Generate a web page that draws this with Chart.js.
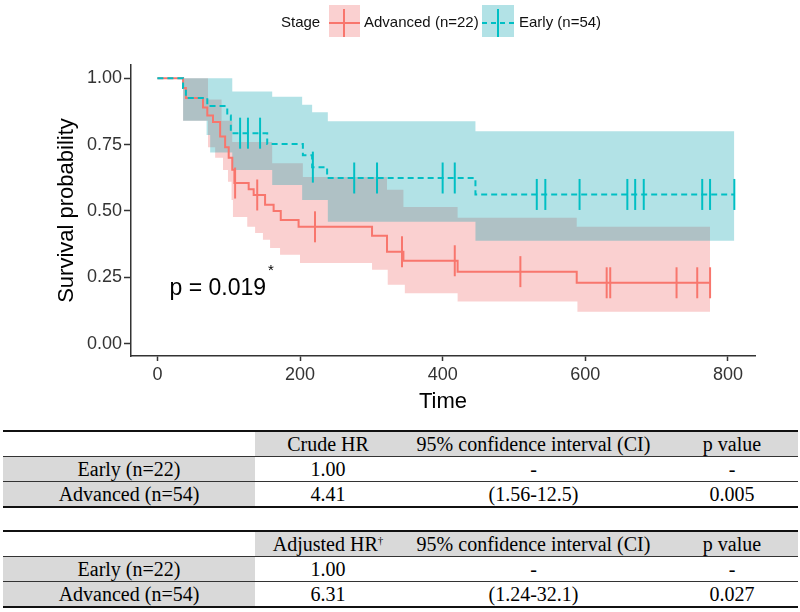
<!DOCTYPE html>
<html>
<head>
<meta charset="utf-8">
<script src="https://cdn.jsdelivr.net/npm/chart.js@4.4.1/dist/chart.umd.min.js"></script>
<style>
html, body { margin: 0; padding: 0; background: #fff; }
#wrap { position: relative; width: 800px; height: 612px; overflow: hidden; }
#km { position: absolute; left: 0; top: 0; }
table.hr { position: absolute; left: 3px; width: 795px; border-collapse: collapse; table-layout: fixed;
  font-family: "Liberation Serif", "Times New Roman", serif; font-size: 20px; color: #000;
  border-top: 2px solid #111; border-bottom: 2px solid #111; }
table.hr td { height: 24px; line-height: 24px; padding: 0; text-align: center; border-bottom: 1px solid #333; white-space: nowrap; }
table.hr tr.head td { background: #d9d9d9; }
table.hr tr.head td.blank { background: #fff; }
table.hr td.lab { background: #d9d9d9; }
table.hr sup { font-size: 11px; vertical-align: top; position: relative; top: -4px; }
</style>
</head>
<body>
<div id="wrap">
  <canvas id="km" width="800" height="425"></canvas>
</div>
<script>
// axis ticks
const xTicks = [0, 200, 400, 600, 800];
const yTicks = [0, 0.25, 0.5, 0.75, 1];

// Advanced (red) KM curve
const advTime = [0, 36, 40, 64, 70, 78, 88, 95, 100, 105, 108, 128, 135, 151, 163, 173, 198, 301, 322, 345, 421, 588, 775];
const advSurv = [1, 0.963, 0.926, 0.89, 0.86, 0.835, 0.78, 0.74, 0.70, 0.655, 0.605, 0.582, 0.56, 0.523, 0.50, 0.466, 0.44, 0.406, 0.346, 0.312, 0.271, 0.229, 0.229];
const advCensorTime = [109, 140, 221, 343, 417, 509, 630, 635, 728, 757, 775];
const advCensorSurv = [0.605, 0.56, 0.44, 0.346, 0.312, 0.271, 0.229, 0.229, 0.229, 0.229, 0.229];
const advUpperTime = [36, 71, 90, 105, 161, 204, 322, 345, 421, 588, 775];
const advUpper = [1, 0.92, 0.84, 0.76, 0.68, 0.628, 0.58, 0.515, 0.474, 0.44, 0.44];
const advLowerTime = [36, 71, 81, 92, 99, 104, 106, 126, 137, 148, 158, 172, 200, 301, 323, 347, 421, 589, 775];
const advLower = [0.84, 0.74, 0.70, 0.654, 0.61, 0.541, 0.477, 0.44, 0.417, 0.391, 0.36, 0.335, 0.304, 0.278, 0.222, 0.19, 0.158, 0.12, 0.12];

// Early (teal) KM curve
const earlyTime = [0, 36, 40, 70, 98, 103, 154, 204, 217, 238, 446, 809];
const earlySurv = [1, 0.963, 0.926, 0.895, 0.86, 0.793, 0.752, 0.71, 0.665, 0.624, 0.562, 0.562];
const earlyCensorTime = [116, 127, 144, 218, 276, 308, 400, 417, 532, 544, 592, 659, 670, 682, 764, 775, 809];
const earlyCensorSurv = [0.793, 0.793, 0.793, 0.665, 0.624, 0.624, 0.624, 0.624, 0.562, 0.562, 0.562, 0.562, 0.562, 0.562, 0.562, 0.562, 0.562];
const earlyUpperTime = [36, 105, 161, 203, 217, 239, 446, 809];
const earlyUpper = [1, 0.95, 0.93, 0.90, 0.872, 0.838, 0.80, 0.80];
const earlyLowerTime = [36, 69, 74, 105, 161, 203, 239, 446, 809];
const earlyLower = [0.84, 0.786, 0.72, 0.654, 0.598, 0.541, 0.459, 0.387, 0.387];

const legendTitle = "Stage";
const groupNames = ["Advanced (n=22)", "Early (n=54)"];
const pvalText = "p = 0.019";
const pvalAt = {x: 17, y: 0.207};

// tables
const tableHead1 = ["", "Crude HR", "95% confidence interval (CI)", "p value"];
const tableHead2 = ["", "Adjusted HR<sup>†</sup>", "95% confidence interval (CI)", "p value"];
const rowLabels = ["Early (n=22)", "Advanced (n=54)"];
const crudeHR = ["1.00", "4.41"];
const crudeCI = ["-", "(1.56-12.5)"];
const crudeP = ["-", "0.005"];
const adjHR = ["1.00", "6.31"];
const adjCI = ["-", "(1.24-32.1)"];
const adjP = ["-", "0.027"];

const RED = "#F8766D";
const TEAL = "#00BFC4";
const RED_FILL = "rgba(240,100,100,0.3)";
const TEAL_FILL = "rgba(0,160,172,0.3)";
const SANS = '"Liberation Sans", Arial, sans-serif';

const pts = (xs, ys) => xs.map((t, i) => ({x: t, y: ys[i]}));

function makeTable(top, head, hr, ci, p) {
    const tbl = document.createElement("table");
    tbl.className = "hr";
    tbl.style.top = top + "px";
    const cols = [252, 146, 265, 132];
    let html = "<colgroup>" + cols.map(w => `<col style="width:${w}px">`).join("") + "</colgroup>";
    html += '<tr class="head">' + head.map((h, i) => `<td${i === 0 ? ' class="blank"' : ""}>${h}</td>`).join("") + "</tr>";
    rowLabels.forEach((lab, i) => {
        html += `<tr><td class="lab">${lab}</td><td>${hr[i]}</td><td>${ci[i]}</td><td>${p[i]}</td></tr>`;
    });
    tbl.innerHTML = html;
    document.getElementById("wrap").appendChild(tbl);
}
makeTable(430, tableHead1, crudeHR, crudeCI, crudeP);
makeTable(530, tableHead2, adjHR, adjCI, adjP);

const legendPlugin = {
    id: "kmLegend",
    afterDraw(c) {
        const ctx = c.ctx;
        ctx.save();
        ctx.font = "15px " + SANS;
        ctx.fillStyle = "#111";
        ctx.textBaseline = "middle";
        ctx.textAlign = "left";
        ctx.fillText(legendTitle, 281, 23);

        // advanced key
        ctx.fillStyle = RED_FILL;
        ctx.fillRect(329, 5, 31, 32);
        ctx.strokeStyle = RED;
        ctx.lineWidth = 2;
        ctx.beginPath();
        ctx.moveTo(329, 23); ctx.lineTo(360, 23);
        ctx.moveTo(344, 9); ctx.lineTo(344, 37);
        ctx.stroke();
        ctx.fillStyle = "#111";
        ctx.fillText(groupNames[0], 364, 23);

        // early key
        ctx.fillStyle = TEAL_FILL;
        ctx.fillRect(482, 5, 32, 32);
        ctx.strokeStyle = TEAL;
        ctx.beginPath();
        ctx.setLineDash([5, 4]);
        ctx.moveTo(482, 23); ctx.lineTo(514, 23);
        ctx.stroke();
        ctx.setLineDash([]);
        ctx.beginPath();
        ctx.moveTo(498, 9); ctx.lineTo(498, 37);
        ctx.stroke();
        ctx.fillStyle = "#111";
        ctx.fillText(groupNames[1], 519, 23);
        ctx.restore();
    }
};

const pvalPlugin = {
    id: "pval",
    afterDatasetsDraw(c) {
        const {ctx, scales: {x, y}} = c;
        const px = x.getPixelForValue(pvalAt.x);
        const py = y.getPixelForValue(pvalAt.y);
        ctx.save();
        ctx.font = "23px " + SANS;
        ctx.fillStyle = "#000";
        ctx.textBaseline = "middle";
        ctx.textAlign = "left";
        ctx.fillText(pvalText, px, py);
        const w = ctx.measureText(pvalText).width;
        ctx.font = "15px " + SANS;
        ctx.fillText("*", px + w + 2, py - 18);
        ctx.restore();
    }
};

const bound = (data, extra) => Object.assign({
    data: data, stepped: true, borderWidth: 0, pointRadius: 0
}, extra);

const tickFont = {family: SANS, size: 18};
const titleFont = {family: SANS, size: 22};

new Chart(document.getElementById("km"), {
    type: "line",
    data: {
        datasets: [
            bound(pts(advLowerTime, advLower), {fill: false, order: 11}),
            bound(pts(advUpperTime, advUpper), {fill: 0, backgroundColor: RED_FILL, order: 11}),
            bound(pts(earlyLowerTime, earlyLower), {fill: false, order: 10}),
            bound(pts(earlyUpperTime, earlyUpper), {fill: 2, backgroundColor: TEAL_FILL, order: 10}),
            {
                data: pts(advTime, advSurv), stepped: true, borderColor: RED, borderWidth: 2,
                pointRadius: 0, fill: false, order: 3
            },
            {
                data: pts(earlyTime, earlySurv), stepped: true, borderColor: TEAL, borderWidth: 2,
                borderDash: [6, 4], pointRadius: 0, fill: false, order: 2
            },
            {
                data: pts(advCensorTime, advCensorSurv), showLine: false, pointStyle: "line",
                pointRotation: 90, pointRadius: 15.5, pointBorderWidth: 2, pointBorderColor: RED, order: 1
            },
            {
                data: pts(earlyCensorTime, earlyCensorSurv), showLine: false, pointStyle: "line",
                pointRotation: 90, pointRadius: 15.5, pointBorderWidth: 2, pointBorderColor: TEAL, order: 0
            }
        ]
    },
    options: {
        responsive: false,
        animation: false,
        events: [],
        layout: {padding: {top: 65, right: 45, left: 0, bottom: 0}},
        plugins: {legend: {display: false}, tooltip: {enabled: false}},
        scales: {
            x: {
                type: "linear", min: -37, max: 838,
                afterFit: s => { s.height = 69; },
                afterBuildTicks: s => { s.ticks = xTicks.map(v => ({value: v})); },
                ticks: {font: tickFont, color: "#333", padding: 3, maxRotation: 0},
                grid: {drawOnChartArea: false, tickLength: 5, tickColor: "#333", tickWidth: 1.5},
                border: {color: "#333", width: 1.5},
                title: {display: true, text: "Time", font: titleFont, color: "#000", padding: {top: 0, bottom: 9.8}}
            },
            y: {
                type: "linear", min: -0.047, max: 1.05,
                afterFit: s => { s.width = 131; },
                afterBuildTicks: s => { s.ticks = yTicks.map(v => ({value: v})); },
                ticks: {font: tickFont, color: "#333", padding: 2, callback: v => v.toFixed(2)},
                grid: {drawOnChartArea: false, tickLength: 7, tickColor: "#333", tickWidth: 1.5},
                border: {color: "#333", width: 1.5},
                title: {display: true, text: "Survival probability", font: titleFont, color: "#000", padding: {top: 53.3, bottom: 0}}
            }
        }
    },
    plugins: [legendPlugin, pvalPlugin]
});
</script>
</body>
</html>
